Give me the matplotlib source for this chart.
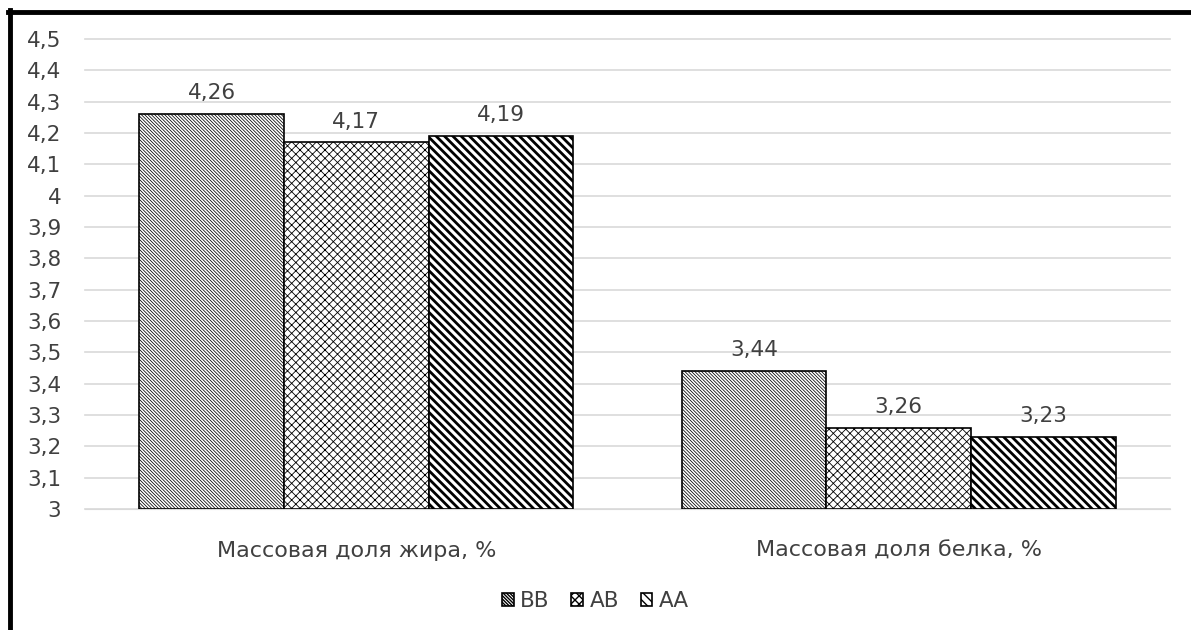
import numpy as np
import matplotlib.pyplot as plt
from matplotlib.lines import Line2D
from matplotlib.ticker import FuncFormatter

categories = ['Массовая доля жира, %', 'Массовая доля белка, %']
groups = ['BB', 'AB', 'AA']
bb = [4.26, 3.44]
ab = [4.17, 3.26]
aa = [4.19, 3.23]
yticks = np.arange(3.0, 4.51, 0.1)

def comma(v, pos=None):
    return ('%g' % round(v, 2)).replace('.', ',')

fig = plt.figure(figsize=(11.91, 6.30), dpi=100)
ax = fig.add_axes([85/1191, 1-509/630, 1085/1191, 470/630])

x = np.arange(len(categories))
w = 0.8/3
series = [bb, ab, aa]
hatches = ['\\' * 10, 'xxxx', '\\' * 4]
hlw = [0.55, 0.6, 2.0]
for i, (vals, h) in enumerate(zip(series, hatches)):
    with plt.rc_context({'hatch.linewidth': hlw[i]}):
        bars = ax.bar(x + (i-1)*w, np.array(vals)-3, w, bottom=3, color='white',
                      edgecolor='black', linewidth=1.2, hatch=h, label=groups[i], zorder=3)
    for b, v in zip(bars, vals):
        ax.annotate(comma(v), (b.get_x()+b.get_width()/2, v), xytext=(0, 15),
                    textcoords='offset points', ha='center', va='center', fontsize=15.5, color='#404040')

ax.set_ylim(3, 4.5)
ax.set_xlim(-0.5, 1.5)
ax.set_yticks(yticks)
ax.yaxis.set_major_formatter(FuncFormatter(comma))
ax.set_xticks(x)
ax.set_xticklabels(categories, fontsize=16)
ax.tick_params(axis='both', length=0, colors='#404040')
ax.tick_params(axis='y', labelsize=15.5, pad=17)
ax.tick_params(axis='x', pad=23)
ax.grid(axis='y', color='#d9d9d9', linewidth=1.2, zorder=0)
for gl in ax.get_ygridlines():
    gl.set_clip_on(False)
for s in ['left', 'right', 'top']:
    ax.spines[s].set_visible(False)
ax.spines['bottom'].set_color('#d9d9d9')
ax.set_axisbelow(True)

leg = fig.legend(loc='center', bbox_to_anchor=(0.5, 1-601/630), ncol=3, frameon=False,
                 fontsize=15.5, handlelength=0.55, handleheight=0.55, handletextpad=0.3,
                 columnspacing=1.0, labelcolor='#404040')

# screenshot frame
fig.add_artist(Line2D([10/1191, 10/1191], [0, 1-10/630], color='black', linewidth=3.5))
fig.add_artist(Line2D([8/1191, 1], [1-12/630, 1-12/630], color='black', linewidth=3.5))

fig.savefig('out.png', dpi=100)
